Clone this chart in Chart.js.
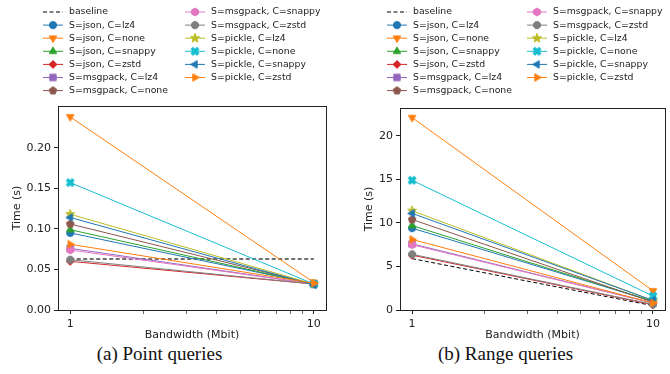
<!DOCTYPE html>
<html lang="en">
<head>
<meta charset="UTF-8">
<title>Bandwidth vs time</title>
<script src="https://cdn.jsdelivr.net/npm/chart.js@4.4.0/dist/chart.umd.min.js"></script>
<style>
    body { margin: 0; background: #fff; width: 670px; height: 374px; position: relative; overflow: hidden; }
    .box { position: absolute; top: 0; width: 335px; height: 342px; }
    .cap { position: absolute; top: 343px; width: 335px; text-align: center;
           font-family: "Liberation Serif", "DejaVu Serif", serif; font-size: 19px; color: #111; }
</style>
</head>
<body>
<div class="box" style="left:0"><canvas id="pointChart" width="335" height="342"></canvas></div>
<div class="box" style="left:335px"><canvas id="rangeChart" width="335" height="342"></canvas></div>
<div class="cap" style="left:-8px">(a) Point queries</div>
<div class="cap" style="left:338px">(b) Range queries</div>
<script>
    // data
    const bandwidth = [1, 10];
    const seriesNames = [
        'S=json, C=lz4', 'S=json, C=none', 'S=json, C=snappy', 'S=json, C=zstd',
        'S=msgpack, C=lz4', 'S=msgpack, C=none', 'S=msgpack, C=snappy', 'S=msgpack, C=zstd',
        'S=pickle, C=lz4', 'S=pickle, C=none', 'S=pickle, C=snappy', 'S=pickle, C=zstd'
    ];
    const seriesColors = ['#1f77b4', '#ff7f0e', '#2ca02c', '#d62728', '#9467bd', '#8c564b',
                          '#e377c2', '#7f7f7f', '#bcbd22', '#17becf', '#1f77b4', '#ff7f0e'];
    const seriesMarkers = ['circle', 'triDown', 'triUp', 'diamond', 'square', 'pentagon',
                           'hexagon', 'octagon', 'star', 'xfill', 'triLeft', 'triRight'];

    // point queries (s)
    const pointBaseline = [0.063, 0.063];
    const pointTimes = [
        [0.095, 0.032], [0.238, 0.034], [0.099, 0.032], [0.060, 0.032],
        [0.076, 0.032], [0.106, 0.032], [0.074, 0.032], [0.062, 0.032],
        [0.118, 0.032], [0.157, 0.032], [0.114, 0.031], [0.081, 0.033]
    ];
    // range queries (s)
    const rangeBaseline = [5.9, 0.5];
    const rangeTimes = [
        [9.4, 1.0], [22.1, 2.2], [9.7, 1.0], [6.3, 0.6],
        [7.6, 0.8], [10.4, 0.9], [7.5, 0.8], [6.4, 0.65],
        [11.4, 1.1], [14.9, 1.6], [11.1, 1.1], [8.1, 0.8]
    ];

    const xTicks = [1, 2, 3, 4, 5, 6, 7, 8, 9, 10];
    const xLabels = [1, 10];
    const pointYTicks = [0, 0.05, 0.10, 0.15, 0.20];
    const rangeYTicks = [0, 5, 10, 15, 20];

    const FONT = 'DejaVu Sans';
    const INK = '#222';

    // small canvases used as marker glyphs
    function poly(ctx, n, r, rot) {
        ctx.beginPath();
        for (let i = 0; i < n; i++) {
            const a = rot + i * 2 * Math.PI / n;
            ctx.lineTo(Math.cos(a) * r, Math.sin(a) * r);
        }
        ctx.closePath();
    }
    function makeMarker(shape, color) {
        const c = document.createElement('canvas');
        c.width = 12; c.height = 12;
        const g = c.getContext('2d');
        g.translate(6, 6);
        g.fillStyle = color; g.strokeStyle = color; g.lineWidth = 1;
        const r = 3.6, d = Math.PI / 180;
        if (shape === 'circle') { g.beginPath(); g.arc(0, 0, r, 0, 2 * Math.PI); }
        else if (shape === 'triUp') poly(g, 3, r * 1.2, -90 * d);
        else if (shape === 'triDown') poly(g, 3, r * 1.2, 90 * d);
        else if (shape === 'triLeft') poly(g, 3, r * 1.2, 180 * d);
        else if (shape === 'triRight') poly(g, 3, r * 1.2, 0);
        else if (shape === 'diamond') poly(g, 4, r * 1.1, 0);
        else if (shape === 'square') poly(g, 4, r * 1.25, 45 * d);
        else if (shape === 'pentagon') poly(g, 5, r * 1.1, -90 * d);
        else if (shape === 'hexagon') poly(g, 6, r * 1.1, -90 * d);
        else if (shape === 'octagon') poly(g, 8, r * 1.05, 22.5 * d);
        else if (shape === 'star') {
            g.beginPath();
            for (let i = 0; i < 10; i++) {
                const a = -90 * d + i * 36 * d, rr = i % 2 ? r * 0.55 : r * 1.35;
                g.lineTo(Math.cos(a) * rr, Math.sin(a) * rr);
            }
            g.closePath();
        } else if (shape === 'xfill') {
            const w = r * 0.38, L = r * 1.15;
            const pts = [[w, w], [w, L], [-w, L], [-w, w], [-L, w], [-L, -w], [-w, -w], [-w, -L], [w, -L], [w, -w], [L, -w], [L, w]];
            g.rotate(45 * d);
            g.beginPath();
            pts.forEach(p => g.lineTo(p[0], p[1]));
            g.closePath();
        }
        g.fill(); g.stroke();
        return c;
    }
    const markerImgs = seriesMarkers.map((m, k) => makeMarker(m, seriesColors[k]));

    function makeDatasets(baseline, times, baseColor, baseWidth) {
        const ds = [{
            label: 'baseline',
            data: bandwidth.map((b, i) => ({ x: b, y: baseline[i] })),
            borderColor: baseColor, borderWidth: baseWidth, borderDash: [4, 2.5],
            pointRadius: 0, order: 20
        }];
        times.forEach((vals, k) => ds.push({
            label: seriesNames[k],
            data: bandwidth.map((b, i) => ({ x: b, y: vals[i] })),
            borderColor: seriesColors[k], backgroundColor: seriesColors[k], borderWidth: 1,
            pointStyle: markerImgs[k], pointRadius: 4, order: 12 - k
        }));
        return ds;
    }

    // matplotlib style legend, two columns filled top to bottom
    const mplLegend = {
        id: 'mplLegend',
        afterDraw(chart, args, opts) {
            const ctx = chart.ctx;
            ctx.save();
            ctx.font = '9.3px "' + FONT + '"';
            ctx.textBaseline = 'middle';
            ctx.fillStyle = INK;
            chart.data.datasets.forEach((ds, i) => {
                const col = i < 7 ? 0 : 1, row = i < 7 ? i : i - 7;
                const lx = opts.cols[col], y = opts.top + row * opts.gap;
                ctx.strokeStyle = ds.borderColor === 'rgba(0,0,0,0.75)' ? '#000' : ds.borderColor;
                ctx.lineWidth = 1;
                ctx.setLineDash(ds.borderDash || []);
                ctx.beginPath(); ctx.moveTo(lx, y); ctx.lineTo(lx + 20, y); ctx.stroke();
                ctx.setLineDash([]);
                if (ds.pointRadius > 0) ctx.drawImage(ds.pointStyle, lx + 10 - 6, y - 6);
                ctx.fillText(ds.label, lx + 26, y);
            });
            ctx.restore();
        }
    };
    // box around the axes
    const frame = {
        id: 'frame',
        afterDraw(chart) {
            const a = chart.chartArea, ctx = chart.ctx;
            ctx.save();
            ctx.strokeStyle = INK; ctx.lineWidth = 1;
            ctx.strokeRect(Math.round(a.left) + 0.5, Math.round(a.top) + 0.5,
                           Math.round(a.right - a.left), Math.round(a.bottom - a.top));
            ctx.restore();
        }
    };

    function makeChart(id, datasets, yTicks, yMax, fmt, cfg) {
        return new Chart(document.getElementById(id), {
            type: 'line',
            data: { datasets: datasets },
            options: {
                responsive: false, animation: false, devicePixelRatio: 1,
                layout: { padding: { top: cfg.top, right: cfg.right, left: 0, bottom: 0 } },
                plugins: { legend: { display: false }, tooltip: { enabled: false }, mplLegend: cfg.legend },
                scales: {
                    x: {
                        type: 'logarithmic', min: 0.891, max: 11.22,
                        afterBuildTicks: s => { s.ticks = xTicks.map(v => ({ value: v })); },
                        afterFit: s => { s.height = 342 - 310; },
                        ticks: { autoSkip: false, maxRotation: 0, padding: 4, color: INK,
                                 font: { family: FONT, size: 11 },
                                 callback: v => xLabels.includes(v) ? String(v) : '' },
                        grid: { drawOnChartArea: false, tickLength: 4,
                                tickColor: c => (c.tick && xLabels.includes(c.tick.value)) ? INK : '#666' },
                        border: { color: INK },
                        title: { display: true, text: 'Bandwidth (Mbit)', color: INK,
                                 font: { family: FONT, size: 11 }, padding: { top: 0, bottom: 0 } }
                    },
                    y: {
                        min: 0, max: yMax,
                        afterBuildTicks: s => { s.ticks = yTicks.map(v => ({ value: v })); },
                        afterFit: s => { s.width = cfg.yWidth; },
                        ticks: { padding: 3, color: INK, font: { family: FONT, size: 11 }, callback: fmt },
                        grid: { drawOnChartArea: false, tickLength: 4, tickColor: INK },
                        border: { color: INK },
                        title: { display: true, text: 'Time (s)', color: INK,
                                 font: { family: FONT, size: 11 }, padding: { top: cfg.titlePad, bottom: 0 } }
                    }
                }
            },
            plugins: [mplLegend, frame]
        });
    }

    makeChart('pointChart', makeDatasets(pointBaseline, pointTimes, 'rgba(0,0,0,0.75)', 1.5),
        pointYTicks, 0.2514, v => Number(v).toFixed(2),
        { top: 106, right: 9, yWidth: 58, titlePad: 11, legend: { cols: [43, 185], top: 12, gap: 13.1 } });

    makeChart('rangeChart', makeDatasets(rangeBaseline, rangeTimes, '#000', 1),
        rangeYTicks, 23.2, v => String(v),
        { top: 108, right: 2, yWidth: 65, titlePad: 28, legend: { cols: [52, 192], top: 12, gap: 13.1 } });
</script>
</body>
</html>
